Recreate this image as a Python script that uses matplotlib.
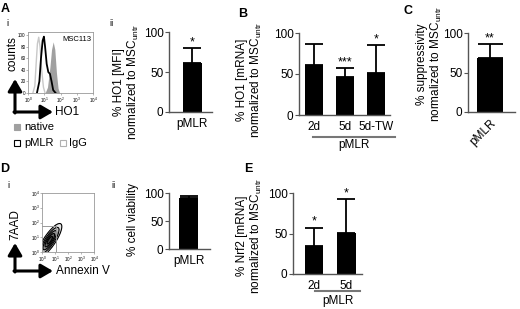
import numpy as np
import matplotlib
matplotlib.use('Agg')
from matplotlib import pyplot as plt

plt.rcParams['font.family'] = ['Liberation Sans', 'DejaVu Sans']
plt.rcParams['mathtext.default'] = 'regular'

W, H = 520, 309

# ---- data ----
# A ii
a2_labels = ['pMLR']
a2_vals = [61]
a2_errs = [19]
a2_stars = ['*']
# B
b_labels = ['2d', '5d', '5d-TW']
b_vals = [61, 46, 51]
b_errs = [25, 11, 34]
b_stars = ['', '***', '*']
# C
c_labels = ['pMLR']
c_vals = [68]
c_errs = [18]
c_stars = ['**']
# D ii
d2_labels = ['pMLR']
d2_vals = [91]
d2_errs = [3]
d2_stars = ['']
# E
e_labels = ['2d', '5d']
e_vals = [35, 51]
e_errs = [22, 41]
e_stars = ['*', '*']

# A i histogram outlines (log10 fluorescence, % of max)
igg_x = [0.30, 0.42, 0.50, 0.58, 0.66, 0.74, 0.84, 0.95, 1.05]
igg_y = [0, 12, 50, 85, 96, 80, 40, 10, 0]
pmlr_x = [0.55, 0.70, 0.80, 0.90, 0.98, 1.05, 1.15, 1.25, 1.35, 1.45, 1.55, 1.70]
pmlr_y = [0, 20, 60, 90, 97, 80, 50, 36, 33, 20, 5, 0]
nat_x = [1.05, 1.20, 1.35, 1.45, 1.55, 1.65, 1.75, 1.85, 1.95]
nat_y = [0, 10, 45, 75, 88, 75, 35, 8, 0]

# D i contour cloud (log10 annexin V, log10 7AAD)
cloud_center = (0.6, 0.8)
cloud_sd = (0.55, 0.17)
cloud_angle = 52
gate_x, gate_y = 1.1, 1.75
gate_text = '92.3%'


def rect(x0, y0, x1, y1):
    return [x0 / W, 1 - y1 / H, (x1 - x0) / W, (y1 - y0) / H]


fig = plt.figure(figsize=(W / 100, H / 100), dpi=100)
ov = fig.add_axes([0, 0, 1, 1])
ov.set_xlim(0, W)
ov.set_ylim(H, 0)
ov.axis('off')

axcol = '#555555'


def bar_panel(box, labels, vals, errs, stars, xlim, width, capsize, rot=0):
    ax = fig.add_axes(rect(*box))
    x = np.arange(len(vals))
    ax.bar(x, vals, width, color='black', zorder=2)
    ax.errorbar(x, vals, yerr=[np.zeros(len(vals)), errs], fmt='none',
                ecolor='black', elinewidth=1.3, capsize=capsize, capthick=1.3, zorder=3)
    for xi, v, e, s in zip(x, vals, errs, stars):
        if s:
            ax.annotate(s, (xi, v + e), xytext=(0, 0), textcoords='offset points',
                        ha='center', va='bottom', fontsize=9, annotation_clip=False)
    ax.set_ylim(0, 100)
    ax.set_xlim(*xlim)
    ax.set_yticks([0, 50, 100])
    ax.set_xticks(x)
    if rot:
        ax.set_xticklabels(labels, rotation=rot, ha='right', rotation_mode='anchor')
    else:
        ax.set_xticklabels(labels)
    for s in ['top', 'right']:
        ax.spines[s].set_visible(False)
    for s in ['left', 'bottom']:
        ax.spines[s].set_color(axcol)
        ax.spines[s].set_linewidth(1.0)
    ax.tick_params(axis='y', length=3, width=0.8, color=axcol, labelsize=8.5, pad=1)
    ax.tick_params(axis='x', length=0, labelsize=8.5, pad=4)
    ax.patch.set_alpha(0)
    return ax


bar_panel((169, 32, 212, 112), a2_labels, a2_vals, a2_errs, a2_stars, (-0.74, 0.62), 0.6, 6.5)
bar_panel((299, 33, 390, 115), b_labels, b_vals, b_errs, b_stars, (-0.48, 2.45), 0.58, 6.5)
bar_panel((468, 33, 515, 112), c_labels, c_vals, c_errs, c_stars, (-0.68, 0.77), 0.8, 9, rot=45)
bar_panel((169, 193, 210, 249), d2_labels, d2_vals, d2_errs, d2_stars, (-0.62, 0.68), 0.6, 6.5)
bar_panel((293, 193, 362, 274), e_labels, e_vals, e_errs, e_stars, (-0.65, 1.48), 0.57, 6.5)

# y labels
lab_kw = dict(rotation=90, ha='center', va='center', fontsize=8.5, linespacing=1.15,
              multialignment='center')
norm = 'normalized to MSC$_{untr}$'
ov.text(127, 82, '% HO1 [MFI]\n' + norm, **lab_kw)
ov.text(250, 80, '% HO1 [mRNA]\n' + norm, **lab_kw)
ov.text(430, 64, '% suppressivity\n' + norm, **lab_kw)
ov.text(133, 220, '% cell viability', **lab_kw)
ov.text(250, 236, '% Nrf2 [mRNA]\n' + norm, **lab_kw)

# group brackets
ov.plot([313, 395], [137, 137], color='#777777', lw=1.5)
ov.text(354, 145, 'pMLR', ha='center', va='center', fontsize=8.5)
ov.plot([315, 360], [291, 291], color='#777777', lw=1.5)
ov.text(338, 301, 'pMLR', ha='center', va='center', fontsize=8.5)

# panel letters
for t, x, y in [('A', 5, 9), ('B', 243, 14), ('C', 408, 11), ('D', 5, 169), ('E', 248, 169)]:
    ov.text(x, y, t, ha='center', va='center', fontsize=9, fontweight='bold')
for t, x, y in [('i', 7, 23), ('ii', 112, 23), ('i', 8, 185), ('ii', 113, 185)]:
    ov.text(x, y, t, ha='center', va='center', fontsize=6.5)


def tiny_log_axes(ax):
    ax.set_xlim(0, 4)
    ax.set_xticks(range(5))
    ax.set_xticklabels(['$10^{%d}$' % k for k in range(5)])
    for s in ax.spines.values():
        s.set_color('#999999')
        s.set_linewidth(0.6)
    ax.tick_params(length=1.2, width=0.5, color='#999999', labelsize=3.3, pad=0.5)


# A i histogram
ah = fig.add_axes(rect(28, 32, 93, 93))
ah.fill_between(np.array(nat_x), nat_y, color='#a0a0a0', lw=0)
ah.plot(igg_x, igg_y, color='#c8c8c8', lw=1.0)
ah.plot(pmlr_x, pmlr_y, color='black', lw=1.3)
tiny_log_axes(ah)
ah.set_ylim(0, 105)
ah.set_yticks([0, 20, 40, 60, 80, 100])
ah.text(0.97, 0.93, 'MSC113', transform=ah.transAxes, ha='right', va='top', fontsize=5.5)

# D i contour
ac = fig.add_axes(rect(42, 193, 94, 252))
gx, gy = np.meshgrid(np.linspace(0, 4, 300), np.linspace(0, 4, 300))
th = np.deg2rad(cloud_angle)
u = (gx - cloud_center[0]) * np.cos(th) + (gy - cloud_center[1]) * np.sin(th)
v = -(gx - cloud_center[0]) * np.sin(th) + (gy - cloud_center[1]) * np.cos(th)
dens = np.exp(-0.5 * ((u / cloud_sd[0]) ** 2 + (v / cloud_sd[1]) ** 2))
levels = [0.04, 0.15, 0.35, 0.6, 0.85, 1.01]
ac.contourf(gx, gy, dens, levels=levels, colors=['#e4e4e4', '#b8b8b8', '#909090', '#686868', '#484848'])
ac.contour(gx, gy, dens, levels=levels[:-1], colors='black', linewidths=0.8)
ac.plot([0, gate_x, gate_x], [gate_y, gate_y, 0], color='#999999', lw=0.7)
tiny_log_axes(ac)
ac.set_ylim(0, 4)
ac.set_yticks(range(5))
ac.set_yticklabels(['$10^{%d}$' % k for k in range(5)])
ov.text(58, 242, gate_text, ha='left', va='center', fontsize=6.5)

# arrows
akw = dict(arrowstyle='-|>,head_length=0.6,head_width=0.35', lw=2.2, color='black',
           mutation_scale=12, shrinkA=0, shrinkB=0)
for cx, cy, ty, tx in [(15, 112, 79, 53), (15, 271, 243, 53)]:
    ov.annotate('', xy=(cx, ty), xytext=(cx, cy + 1), arrowprops=akw)
    ov.annotate('', xy=(tx, cy), xytext=(cx - 1, cy), arrowprops=akw)
ov.text(13, 71, 'counts', rotation=90, ha='center', va='bottom', fontsize=8.5)
ov.text(55, 112, 'HO1', ha='left', va='center', fontsize=8.5)
ov.text(15, 240, '7AAD', rotation=90, ha='center', va='bottom', fontsize=8.5)
ov.text(56, 271, 'Annexin V', ha='left', va='center', fontsize=8.5)

# legend A i
ov.add_patch(plt.Rectangle((14, 124), 6, 6, facecolor='#a0a0a0', edgecolor='#a0a0a0', lw=0.8))
ov.text(24, 127, 'native', ha='left', va='center', fontsize=8)
ov.add_patch(plt.Rectangle((14, 140), 6, 6, facecolor='white', edgecolor='black', lw=0.8))
ov.text(24, 143, 'pMLR', ha='left', va='center', fontsize=8)
ov.add_patch(plt.Rectangle((60, 140), 6, 6, facecolor='white', edgecolor='#b0b0b0', lw=0.8))
ov.text(69, 143, 'IgG', ha='left', va='center', fontsize=8)

fig.savefig('out.png', dpi=100)
